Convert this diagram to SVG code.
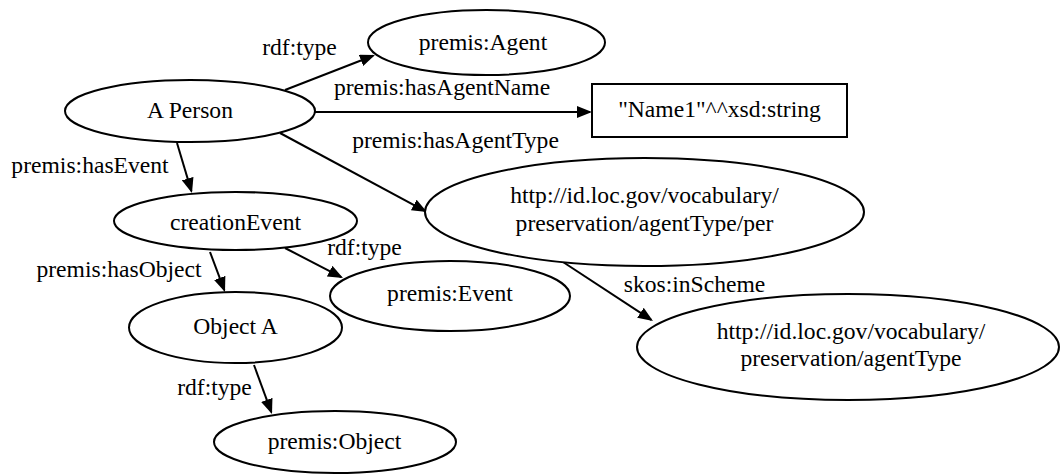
<svg xmlns="http://www.w3.org/2000/svg" width="1061" height="474" viewBox="0 0 1061 474">
<style>
.n{fill:#fff;stroke:#000;stroke-width:2}
.t{font-family:"Liberation Serif","Times New Roman",serif;font-size:23.6px;fill:#000;text-anchor:middle}
.e{stroke:#000;stroke-width:2;fill:none;marker-end:url(#ah)}
</style>
<defs>
<marker id="ah" markerUnits="userSpaceOnUse" markerWidth="15" markerHeight="12" viewBox="0 0 15 12" refX="13" refY="6" orient="auto">
<path d="M0,0 L15,6 L0,12 z" fill="#000"/>
</marker>
</defs>
<rect width="1061" height="474" fill="#fff"/>
<g id="connectors">
<line class="e" x1="285" y1="90" x2="373.1" y2="55.7"/>
<line class="e" x1="315" y1="112" x2="590" y2="112"/>
<line class="e" x1="280" y1="133" x2="425.2" y2="211.1"/>
<line class="e" x1="177" y1="143" x2="191.4" y2="191.1"/>
<line class="e" x1="285" y1="248" x2="341.2" y2="277.1"/>
<line class="e" x1="210" y1="252" x2="224.3" y2="290.1"/>
<line class="e" x1="254" y1="365" x2="271.3" y2="412.1"/>
<line class="e" x1="563" y1="262" x2="651.3" y2="319.9"/>
<text class="t" x="299.5" y="55">rdf:type</text>
<text class="t" x="442" y="95">premis:hasAgentName</text>
<text class="t" x="455.5" y="148">premis:hasAgentType</text>
<text class="t" x="90" y="173">premis:hasEvent</text>
<text class="t" x="364.5" y="255">rdf:type</text>
<text class="t" x="119" y="277">premis:hasObject</text>
<text class="t" x="214.5" y="395">rdf:type</text>
<text class="t" x="694.5" y="292">skos:inScheme</text>
</g>
<g id="person">
<ellipse class="n" cx="190" cy="111" rx="125" ry="31"/>
<text class="t" x="190" y="118">A Person</text>
</g>
<g id="agent">
<ellipse class="n" cx="486.5" cy="42.5" rx="118.5" ry="32.5"/>
<text class="t" x="483" y="50">premis:Agent</text>
</g>
<g id="name">
<rect class="n" x="592" y="84" width="255" height="53"/>
<text class="t" x="719.5" y="117">"Name1"^^xsd:string</text>
</g>
<g id="agenttype-per">
<ellipse class="n" cx="644.5" cy="212" rx="219.5" ry="54"/>
<text class="t" x="644.5" y="203">http://id.loc.gov/vocabulary/</text>
<text class="t" x="644.5" y="231">preservation/agentType/per</text>
</g>
<g id="creation-event">
<ellipse class="n" cx="235.5" cy="221" rx="121.5" ry="29"/>
<text class="t" x="235.5" y="230">creationEvent</text>
</g>
<g id="event">
<ellipse class="n" cx="450" cy="296" rx="120" ry="35"/>
<text class="t" x="450" y="301">premis:Event</text>
</g>
<g id="object-a">
<ellipse class="n" cx="235.5" cy="327.5" rx="106.5" ry="35.5"/>
<text class="t" x="235.5" y="334">Object A</text>
</g>
<g id="object">
<ellipse class="n" cx="335" cy="442" rx="121" ry="31"/>
<text class="t" x="334.5" y="449">premis:Object</text>
</g>
<g id="agenttype-scheme">
<ellipse class="n" cx="848" cy="347" rx="211" ry="53"/>
<text class="t" x="851" y="339">http://id.loc.gov/vocabulary/</text>
<text class="t" x="851" y="366">preservation/agentType</text>
</g>
</svg>
